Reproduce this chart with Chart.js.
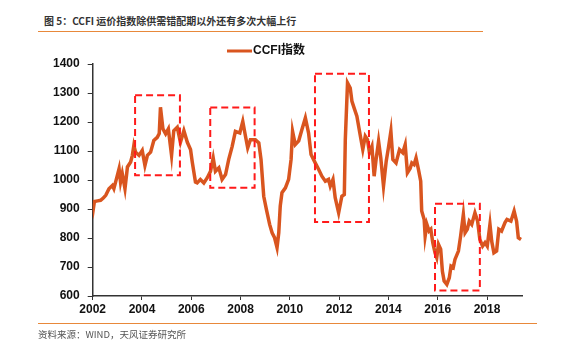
<!DOCTYPE html>
<html>
<head>
<meta charset="utf-8">
<script src="https://cdn.jsdelivr.net/npm/chart.js@4/dist/chart.umd.min.js"></script>
<style>
  html, body { margin: 0; padding: 0; background: #fff; }
  #wrap { position: relative; width: 580px; height: 359px; overflow: hidden; }
  #c { position: absolute; left: 0; top: 0; }
  .title { position: absolute; left: 44px; top: 13px; font: bold 10px "Noto Sans CJK SC", "Liberation Sans", sans-serif; color: #333; white-space: nowrap; }
  .hline { position: absolute; height: 1px; background: #E8883A; }
  .foot { position: absolute; left: 38px; top: 327px; font: 9.5px "Noto Sans CJK SC", "Liberation Sans", sans-serif; color: #555; white-space: nowrap; }
</style>
</head>
<body>
<div id="wrap">
  <div class="title">图 5：CCFI 运价指数除供需错配期以外还有多次大幅上行</div>
  <div class="hline" style="left:38px; top:31px; width:445px;"></div>
  <canvas id="c" width="580" height="359"></canvas>
  <div class="hline" style="left:38px; top:323px; width:499px;"></div>
  <div class="foot">资料来源：WIND，天风证券研究所</div>
</div>
<script>
const seriesName = "CCFI指数";
const dates = [
  2002.00, 2002.03, 2002.07, 2002.20, 2002.32, 2002.43, 2002.53, 2002.66, 2002.80, 2002.86,
  2003.00, 2003.07, 2003.13, 2003.20, 2003.31, 2003.41, 2003.54, 2003.61, 2003.67, 2003.74,
  2003.88, 2004.01, 2004.12, 2004.22, 2004.35, 2004.48, 2004.62, 2004.70, 2004.75, 2004.85,
  2004.96, 2005.07, 2005.20, 2005.29, 2005.43, 2005.56, 2005.70, 2005.84, 2005.97, 2006.04,
  2006.17, 2006.24, 2006.37, 2006.51, 2006.65, 2006.78, 2006.89, 2006.98, 2007.12, 2007.25,
  2007.39, 2007.52, 2007.66, 2007.79, 2007.97, 2008.09, 2008.20, 2008.29, 2008.40, 2008.60,
  2008.74, 2008.83, 2008.94, 2009.05, 2009.18, 2009.28, 2009.38, 2009.48, 2009.55, 2009.61,
  2009.68, 2009.82, 2009.95, 2010.05, 2010.11, 2010.22, 2010.36, 2010.49, 2010.63, 2010.76,
  2010.86, 2011.03, 2011.17, 2011.30, 2011.44, 2011.57, 2011.64, 2011.75, 2011.84, 2011.98,
  2012.11, 2012.21, 2012.25, 2012.34, 2012.45, 2012.52, 2012.61, 2012.72, 2012.85, 2012.96,
  2013.06, 2013.15, 2013.23, 2013.33, 2013.42, 2013.50, 2013.60, 2013.69, 2013.80, 2013.91,
  2014.00, 2014.10, 2014.18, 2014.31, 2014.45, 2014.58, 2014.68, 2014.77, 2014.88, 2014.95,
  2015.04, 2015.12, 2015.22, 2015.31, 2015.35, 2015.45, 2015.49, 2015.56, 2015.65, 2015.72,
  2015.80, 2015.89, 2015.96, 2016.03, 2016.12, 2016.19, 2016.26, 2016.37, 2016.47, 2016.54,
  2016.63, 2016.70, 2016.84, 2016.93, 2017.04, 2017.11, 2017.20, 2017.28, 2017.38, 2017.51,
  2017.62, 2017.71, 2017.82, 2017.92, 2018.01, 2018.12, 2018.19, 2018.28, 2018.39, 2018.48,
  2018.59, 2018.73, 2018.81, 2018.97, 2019.10, 2019.20, 2019.27, 2019.38
];
const ccfi = [
  918, 903, 926, 928, 930, 938, 947, 970, 981, 970,
  1016, 1039, 993, 1022, 970, 1045, 1062, 1085, 1119, 1096,
  1085, 1102, 1050, 1085, 1096, 1136, 1147, 1160, 1251, 1176,
  1159, 1176, 1085, 1170, 1182, 1130, 1170, 1130, 1105, 1062,
  993, 990, 1002, 990, 1008, 1030, 1076, 1030, 1042, 1002,
  1019, 1071, 1116, 1168, 1162, 1202, 1151, 1111, 1139, 1139,
  1128, 1071, 944, 898, 847, 818, 801, 767, 818, 910,
  956, 973, 1002, 1071, 1168, 1122, 1135, 1174, 1214, 1162,
  1088, 1059, 1036, 1013, 996, 1002, 979, 1002, 939, 887,
  944, 950, 1139, 1335, 1317, 1271, 1248, 1220, 1157, 1105,
  1151, 1139, 1094, 1116, 1013, 1071, 1134, 1076, 979, 1065,
  1111, 1168, 1071, 1059, 1105, 1094, 1122, 1025, 1040, 1059,
  1053, 1076, 1036, 996, 893, 864, 807, 847, 824, 830,
  784, 749, 732, 778, 761, 685, 652, 640, 663, 703,
  698, 726, 755, 807, 881, 818, 830, 858, 847, 887,
  858, 795, 772, 784, 772, 847, 789, 749, 755, 830,
  824, 853, 864, 858, 893, 858, 801, 795
];
// Highlight boxes (data units)
const boxStart = [2003.72, 2006.77, 2011.02, 2015.89];
const boxEnd   = [2005.54, 2008.57, 2013.21, 2017.71];
const boxLow   = [1016, 973, 855, 619];
const boxHigh  = [1292, 1250, 1366, 918];

const xTicks = [2002, 2004, 2006, 2008, 2010, 2012, 2014, 2016, 2018];
const yTicks = [600, 700, 800, 900, 1000, 1100, 1200, 1300, 1400];

const lineColor = '#D9551F';

const boxesPlugin = {
  id: 'boxes',
  afterDatasetsDraw(chart) {
    const { ctx, scales: { x, y } } = chart;
    ctx.save();
    ctx.strokeStyle = '#FF1A1A';
    ctx.lineWidth = 2;
    ctx.setLineDash([7, 4]);
    for (let i = 0; i < boxStart.length; i++) {
      const x0 = x.getPixelForValue(boxStart[i]);
      const x1 = x.getPixelForValue(boxEnd[i]);
      const y0 = y.getPixelForValue(boxHigh[i]);
      const y1 = y.getPixelForValue(boxLow[i]);
      ctx.strokeRect(x0, y0, x1 - x0, y1 - y0);
    }
    ctx.restore();
  }
};

const legendPlugin = {
  id: 'customLegend',
  afterDraw(chart) {
    const ctx = chart.ctx;
    ctx.save();
    ctx.strokeStyle = lineColor;
    ctx.lineWidth = 3;
    ctx.beginPath();
    ctx.moveTo(227, 51);
    ctx.lineTo(252, 51);
    ctx.stroke();
    ctx.fillStyle = '#111';
    ctx.font = 'bold 12px "Liberation Sans", "Noto Sans CJK SC", sans-serif';
    ctx.textBaseline = 'middle';
    ctx.fillText(seriesName, 253, 51);
    ctx.restore();
  }
};

new Chart(document.getElementById('c'), {
  type: 'line',
  data: {
    datasets: [{
      label: seriesName,
      data: dates.map((d, i) => ({ x: d, y: ccfi[i] })),
      borderColor: lineColor,
      backgroundColor: lineColor,
      borderWidth: 3.5,
      pointRadius: 0,
      tension: 0,
      fill: false
    }]
  },
  options: {
    responsive: false,
    animation: false,
    layout: { padding: { left: 45, right: 58, top: 64, bottom: 40.6 } },
    plugins: { legend: { display: false }, tooltip: { enabled: false } },
    scales: {
      x: {
        type: 'linear',
        min: 2002,
        max: 2019.42,
        afterBuildTicks: (s) => { s.ticks = xTicks.map(v => ({ value: v })); },
        ticks: {
          callback: (v) => String(Math.round(v)),
          font: { family: '"Liberation Sans", Arial, sans-serif', size: 12, weight: 'bold' },
          color: '#111',
          padding: 2,
          maxRotation: 0,
          autoSkip: false
        },
        grid: { display: true, drawOnChartArea: false, drawTicks: true, tickLength: 4, color: '#333', lineWidth: 1 },
        border: { display: true, color: '#333', width: 1.5 }
      },
      y: {
        min: 600,
        max: 1400,
        afterBuildTicks: (s) => { s.ticks = yTicks.map(v => ({ value: v })); },
        ticks: {
          callback: (v) => String(v),
          font: { family: '"Liberation Sans", Arial, sans-serif', size: 12, weight: 'bold' },
          color: '#111',
          padding: 8
        },
        grid: { display: true, drawOnChartArea: false, drawTicks: true, tickLength: 5, color: '#333', lineWidth: 1 },
        border: { display: true, color: '#333', width: 1.5 }
      }
    }
  },
  plugins: [boxesPlugin, legendPlugin]
});
</script>
</body>
</html>
